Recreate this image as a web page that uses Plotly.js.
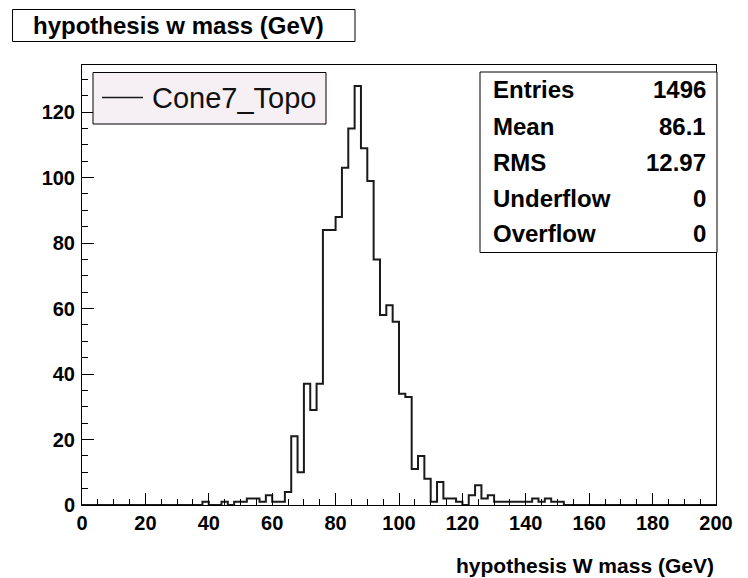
<!DOCTYPE html>
<html>
<head>
<meta charset="utf-8">
<script src="https://cdn.plot.ly/plotly-3.0.1.min.js"></script>
<style>html,body{margin:0;padding:0;background:#fff;}#chart{width:748px;height:578px;}</style>
</head>
<body>
<div id="chart"></div>
<script>
// Histogram binning (x axis, GeV)
const binLow = 0;
const binWidth = 2;
// Bin contents for 100 bins of width 2 GeV, from 0 to 200
const counts = [
  0,0,0,0,0,0,0,0,0,0,      // 0-20
  0,0,0,0,0,0,0,0,0,1,      // 20-40
  0,0,1,0,1,1,2,2,1,3,      // 40-60
  1,1,4,21,10,37,29,37,84,84, // 60-80
  88,103,115,128,109,99,75,58,61,56, // 80-100
  34,33,11,15,8,1,7,2,2,1,  // 100-120
  0,3,6,2,3,1,1,1,1,1,      // 120-140
  1,2,1,2,1,1,0,0,0,0,      // 140-160
  0,0,0,0,0,0,0,0,0,0,      // 160-180
  0,0,0,0,0,0,0,0,0,0       // 180-200
];
const xTickVals = [0,20,40,60,80,100,120,140,160,180,200];
const yTickVals = [0,20,40,60,80,100,120];
const statLabels = ["Entries","Mean","RMS","Underflow","Overflow"];
const statValues = ["1496","86.1","12.97","0","0"];
const seriesName = "Cone7_Topo";
const histTitle = "hypothesis w mass (GeV)";
const xTitle = "hypothesis W mass (GeV)";

const edges = counts.map((_, i) => binLow + i * binWidth);
edges.push(binLow + counts.length * binWidth);
const stepY = counts.concat([counts[counts.length - 1]]);

const L = 82, R = 716, T = 65, B = 505;
const px = x => (x - L) / (R - L);
const py = y => (B - y) / (B - T);
const FONT = "Liberation Sans, Arial, Helvetica, sans-serif";
const yMax = Math.max(...counts) * 1.05;

const shapes = [
  // title box
  {type:'rect', xref:'paper', yref:'paper', x0:px(12.5), x1:px(355), y0:py(41.5), y1:py(9.5),
   line:{color:'#000', width:1}, fillcolor:'#fff', layer:'above'},
  // legend box
  {type:'rect', xref:'paper', yref:'paper', x0:px(93), x1:px(326), y0:py(124), y1:py(72.5),
   line:{color:'#000', width:1}, fillcolor:'#f6f0f5', layer:'above'},
  {type:'line', xref:'paper', yref:'paper', x0:px(102), x1:px(143), y0:py(97.5), y1:py(97.5),
   line:{color:'#1a1a1a', width:1.5}, layer:'above'},
  // stats box
  {type:'rect', xref:'paper', yref:'paper', x0:px(480), x1:px(717), y0:py(252.5), y1:py(72),
   line:{color:'#000', width:1}, fillcolor:'#fff', layer:'above'}
];

const annotations = [
  {xref:'paper', yref:'paper', x:px(31), y:py(25.5), xanchor:'left', yanchor:'middle', showarrow:false,
   text:histTitle, font:{family:FONT, size:24, color:'#000', weight:'bold'}},
  {xref:'paper', yref:'paper', x:px(150), y:py(98), xanchor:'left', yanchor:'middle', showarrow:false,
   text:seriesName, font:{family:FONT, size:29, color:'#111'}},
  {xref:'paper', yref:'paper', x:px(716), y:py(565), xanchor:'right', yanchor:'middle', showarrow:false,
   text:xTitle, font:{family:FONT, size:21, color:'#000', weight:'bold'}}
];
const rowY = [90, 126.5, 162, 198, 233.5];
statLabels.forEach((lab, i) => {
  annotations.push({xref:'paper', yref:'paper', x:px(491), y:py(rowY[i]), xanchor:'left', yanchor:'middle',
    showarrow:false, text:lab, font:{family:FONT, size:24, color:'#000', weight:'bold'}});
  annotations.push({xref:'paper', yref:'paper', x:px(708), y:py(rowY[i]), xanchor:'right', yanchor:'middle',
    showarrow:false, text:statValues[i], font:{family:FONT, size:24, color:'#000', weight:'bold'}});
});

const trace = {
  x: edges, y: stepY, type:'scatter', mode:'lines', name:seriesName,
  line:{shape:'hv', color:'#1a1a1a', width:2}, showlegend:false, hoverinfo:'x+y'
};

const axisCommon = {
  showgrid:false, zeroline:false, showline:true, linecolor:'#000', linewidth:1, mirror:true,
  ticks:'inside', tickcolor:'#000', tickwidth:1, ticklen:12,
  tickfont:{family:FONT, size:20, color:'#000', weight:'bold'}
};

const layout = {
  width:748, height:578,
  margin:{l:L, r:748 - R, t:T, b:578 - B, pad:0},
  paper_bgcolor:'#fff', plot_bgcolor:'#fff',
  showlegend:false,
  xaxis:Object.assign({}, axisCommon, {range:[0,200], tickvals:xTickVals,
    minor:{dtick:5, tick0:0, ticks:'inside', ticklen:6, tickcolor:'#000', tickwidth:1, showgrid:false}}),
  yaxis:Object.assign({}, axisCommon, {range:[0,yMax], tickvals:yTickVals, ticklabelstandoff:2,
    minor:{dtick:5, tick0:0, ticks:'inside', ticklen:6, tickcolor:'#000', tickwidth:1, showgrid:false}}),
  shapes:shapes, annotations:annotations
};

Plotly.newPlot('chart', [trace], layout, {displayModeBar:false, staticPlot:true});
</script>
</body>
</html>
